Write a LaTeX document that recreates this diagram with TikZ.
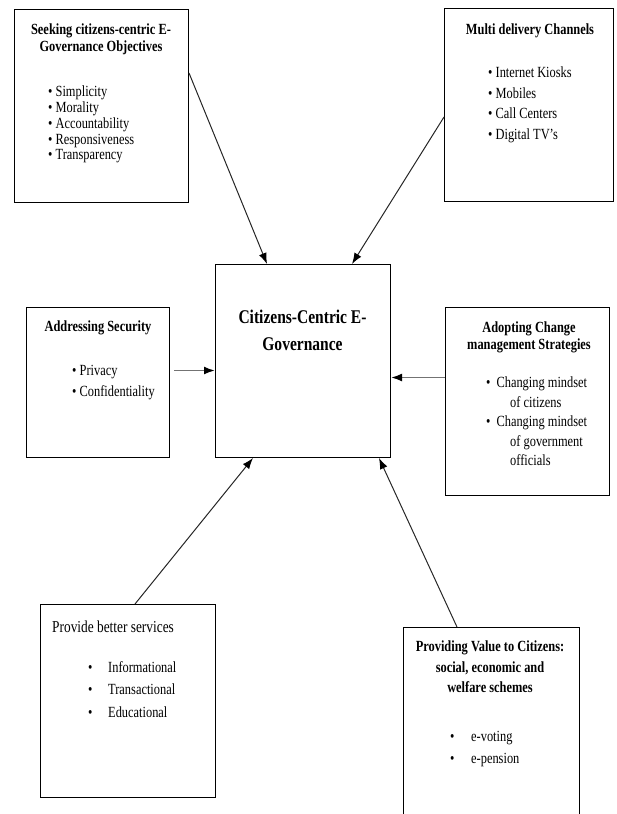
\documentclass[tikz,border=0pt]{standalone}
\usepackage{fontspec}
\setmainfont[FakeStretch=0.8]{Liberation Serif}
\usetikzlibrary{arrows.meta,positioning}

\tikzset{
  box/.style={draw, line width=1pt, anchor=north west, inner sep=0pt},
  boxtitle/.style={font=\fontsize{15.5}{17}\selectfont\bfseries, align=center, anchor=north, inner sep=0pt},
  itemlist/.style={font=\fontsize{15.5}{#1}\selectfont, align=left, anchor=north west, inner sep=0pt},
  itemlist/.default=15.7,
  link/.style={-{Latex[length=11pt,width=8pt,black]}, line width=1pt, draw=black!85},
  sidelink/.style={link, line width=1.8pt, draw=black!55},
}

\begin{document}
\begin{tikzpicture}[x=1pt, y=-1pt]
    \useasboundingbox (0,0) rectangle (617,814);

    % frames
    \node[box, minimum width=174pt, minimum height=193pt] (objbox) at (14,9) {};
    \node[box, minimum width=169pt, minimum height=193pt] (chanbox) at (444,8) {};
    \node[box, minimum width=143pt, minimum height=150pt] (secbox) at (26,307) {};
    \node[box, minimum width=175pt, minimum height=193pt] (hubbox) at (215,264) {};
    \node[box, minimum width=164pt, minimum height=188pt] (chgbox) at (445,307) {};
    \node[box, minimum width=175pt, minimum height=193pt] (svcbox) at (40,604) {};
    \node[box, draw=none, minimum width=175pt, minimum height=187pt] (valbox) at (403,627) {};
    \draw[line width=1pt] (valbox.south west) |- (valbox.north east) -- (valbox.south east);

    % texts
    \node[boxtitle] (objtitle) at (101,24) {Seeking citizens-centric E-\\Governance Objectives};
    \node[itemlist] (objitems) at (48,86) {\textbullet\ Simplicity\\\textbullet\ Morality\\\textbullet\ Accountability\\\textbullet\ Responsiveness\\\textbullet\ Transparency};

    \node[boxtitle] (chantitle) at (530,24) {Multi delivery Channels};
    \node[itemlist=20.5] (chanitems) at (488,67) {\textbullet\ Internet Kiosks\\\textbullet\ Mobiles\\\textbullet\ Call Centers\\\textbullet\ Digital TV's};

    \node[boxtitle] (sectitle) at (98,321) {Addressing Security};
    \node[itemlist=21] (secitems) at (72,365) {\textbullet\ Privacy\\\textbullet\ Confidentiality};

    \node[boxtitle, font=\fontsize{19.4}{27}\selectfont\bfseries] (hubtitle) at (302.5,310) {Citizens-Centric E-\\Governance};

    \node[boxtitle] (chgtitle) at (529,322) {Adopting Change\\management Strategies};
    \node[itemlist=19.5] (chgitems) at (486,377) {\textbullet\hspace{6pt}Changing mindset\\\hspace*{24pt}of citizens\\\textbullet\hspace{6pt}Changing mindset\\\hspace*{24pt}of government\\\hspace*{24pt}officials};

    \node[itemlist, font=\fontsize{16.7}{18}\selectfont] (svctitle) at (52,621) {Provide better services};
    \node[itemlist=22.5] (svcitems) at (88,661) {\makebox[20pt][l]{\textbullet}Informational\\\makebox[20pt][l]{\textbullet}Transactional\\\makebox[20pt][l]{\textbullet}Educational};

    \node[boxtitle, font=\fontsize{15.5}{20.5}\selectfont\bfseries] (valtitle) at (490,641) {Providing Value to Citizens:\\social, economic and\\welfare schemes};
    \node[itemlist=22.5] (valitems) at (450,731) {\makebox[21pt][l]{\textbullet}e-voting\\\makebox[21pt][l]{\textbullet}e-pension};

    % connectors
    \draw[link] ([yshift=-64pt]objbox.north east) -- ([xshift=52pt]hubbox.north west);
    \draw[link] ([yshift=-109pt]chanbox.north west) -- ([xshift=-39pt]hubbox.north east);
    \draw[sidelink] ([xshift=4pt,yshift=12pt]secbox.east) coordinate (secout) -- (secout -| hubbox.west);
    \draw[sidelink] ([yshift=24pt]chgbox.west) coordinate (chgout) -- (chgout -| hubbox.east);
    \draw[link] ([xshift=95pt]svcbox.north west) -- ([xshift=38pt]hubbox.south west);
    \draw[link] ([xshift=54pt]valbox.north west) -- ([xshift=-12pt]hubbox.south east);
\end{tikzpicture}
\end{document}
